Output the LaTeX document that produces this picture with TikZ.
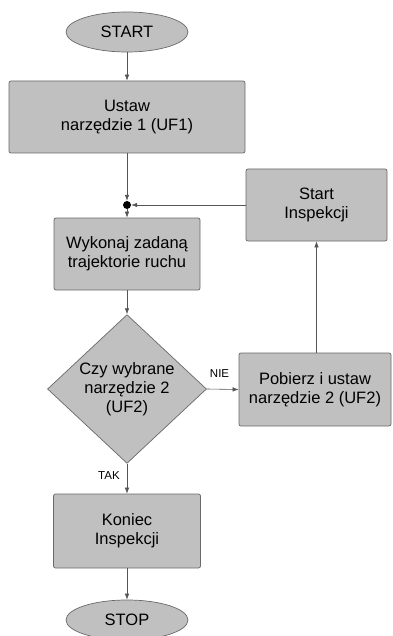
\documentclass[tikz,border=0pt]{standalone}
\usepackage{fontspec}
\setmainfont{Liberation Sans}
\usepackage{tikz}
\usetikzlibrary{shapes.geometric,arrows.meta,positioning}
\definecolor{boxfill}{RGB}{192,192,192}
\definecolor{boxline}{RGB}{105,105,105}
\definecolor{wire}{RGB}{85,85,85}
\tikzset{
    process/.style={
        draw=boxline, fill=boxfill, rectangle,
        rounded corners=2pt, line width=0.7pt,
        inner sep=0pt, align=center, text=black,
        font=\fontsize{16.5}{19}\selectfont
    },
    terminal/.style={
        draw=boxline, fill=boxfill, ellipse,
        minimum width=122pt, minimum height=40pt,
        line width=0.7pt, inner sep=0pt, text=black,
        font=\fontsize{16.5}{19}\selectfont
    },
    decision/.style={
        draw=boxline, fill=boxfill, diamond,
        minimum width=159pt, minimum height=146pt,
        line width=0.7pt, inner sep=0pt, align=center, text=black,
        font=\fontsize{16.5}{19}\selectfont
    },
    junction/.style={circle, fill=black, inner sep=0pt, minimum size=8pt},
    answer/.style={inner sep=0pt, text=black, font=\fontsize{11.5}{13}\selectfont},
    connect/.style={-{Latex[length=6pt,width=4.5pt]}, draw=wire, line width=0.6pt}
}
\begin{document}
\begin{tikzpicture}[x=1pt,y=-1pt]
	\useasboundingbox (0,0) rectangle (392,636);

	\node[terminal] (start) at (127,32) {START};
	\node[process, minimum width=236pt, minimum height=72pt] (ustaw) at (127,117) {Ustaw\\narzędzie 1 (UF1)};
	\node[junction] (join) at (127,205) {};
	\node[process, minimum width=146pt, minimum height=72pt] (ruch) at (127,254) {Wykonaj zadaną\\trajektorie ruchu};
	\node[decision] (wybor) at (127,389) {Czy wybrane\\narzędzie 2\\(UF2)};
	\node[process, minimum width=147pt, minimum height=74pt] (koniec) at (127,531) {Koniec\\Inspekcji};
	\node[terminal] (stop) at (127,620) {STOP};

	\node[process, minimum width=141pt, minimum height=72pt] (insp) at (316.5,205) {Start\\Inspekcji};
	\node[process, minimum width=152pt, minimum height=73pt] (pobierz) at (315,389.5) {Pobierz i ustaw\\narzędzie 2 (UF2)};

	\draw[connect] (start) -- (ustaw);
	\draw[connect] (ustaw) -- (join);
	\draw[connect] (insp) -- (join);
	\draw[connect] (join) -- (ruch);
	\draw[connect] (ruch) -- (wybor);
	\draw[connect] (wybor.east) -- node[answer, above=11pt, pos=0.4] {NIE} (pobierz.west);
	\draw[connect] (pobierz.north -| insp.south) -- (insp.south);
	\draw[connect] (wybor.south) -- node[answer, left=7pt, pos=0.4] {TAK} (koniec.north);
	\draw[connect] (koniec) -- (stop);
\end{tikzpicture}
\end{document}
